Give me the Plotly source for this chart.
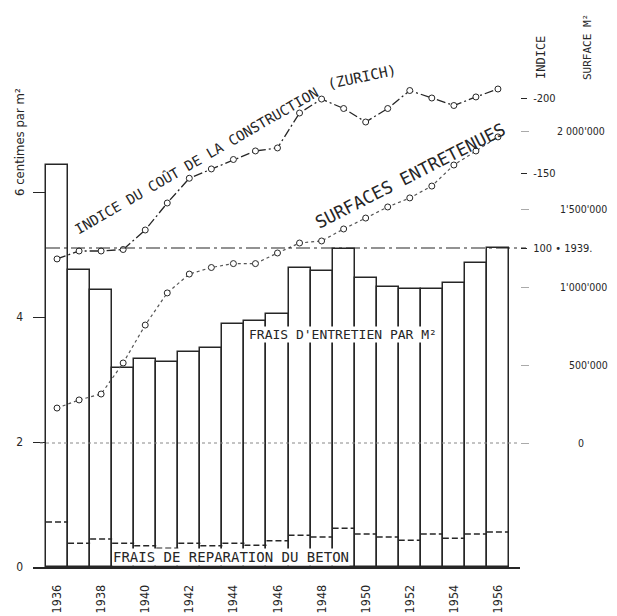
import plotly.graph_objects as go

# ---------------- data ----------------
years = list(range(1936, 1957))
maintenance = [6.43, 4.75, 4.43, 3.18, 3.33, 3.28, 3.44, 3.50, 3.89, 3.94, 4.05,
               4.78, 4.74, 5.09, 4.62, 4.48, 4.45, 4.45, 4.54, 4.86, 5.10]
repair = [0.72, 0.38, 0.45, 0.38, 0.34, 0.30, 0.38, 0.34, 0.38, 0.35, 0.42,
          0.51, 0.48, 0.62, 0.53, 0.48, 0.43, 0.53, 0.46, 0.53, 0.56]
index_zurich = [92.7, 98, 98, 99, 112, 130, 146.5, 152.7, 159, 164.7, 166.7,
                190, 199.3, 193, 184, 193, 205, 200, 195, 200.7, 206]
surface = [224000, 276000, 314000, 513000, 756000, 962000, 1083000, 1125000,
           1150000, 1150000, 1218000, 1282000, 1295000, 1372000, 1442000,
           1513000, 1571000, 1647000, 1782000, 1872000, 1962000]

year_ticks = [1936, 1938, 1940, 1942, 1944, 1946, 1948, 1950, 1952, 1954, 1956]
left_ticks = [0, 2, 4, 6]
left_ticktext = ["0", "2", "4", ""]
index_ticks = [100, 150, 200]
index_ticktext = ["100 • 1939.", "-150", "-200"]
surface_ticks = [0, 500000, 1000000, 1500000, 2000000]
surface_ticktext = ["\u00a0\u00a0\u00a0\u00a0\u00a0\u00a0\u00a00",
                    "\u00a0\u00a0\u00a0\u00a0500'000",
                    "\u00a01'000'000",
                    "\u00a01'500'000",
                    "2 000'000"]

INK = "#262626"
FONT = "DejaVu Sans Condensed, DejaVu Sans, sans-serif"
LETTER = "DejaVu Sans Mono, monospace"

# page geometry (the page body has an 8px margin)
OFF = 8
W, H = 617 - OFF, 616 - OFF
PLOT_L, PLOT_R, PLOT_T, PLOT_B = 33, 520, 10, 567      # page pixels
L, T = PLOT_L - OFF, PLOT_T - OFF
R, B = W - (PLOT_R - OFF), H - (PLOT_B - OFF)
PW, PH = PLOT_R - PLOT_L, PLOT_B - PLOT_T


def px(x, y):
    return (x - PLOT_L) / PW, (PLOT_B - y) / PH


# axis scales (pixels per unit)
left_ppu = 62.5
idx_ppu = 1.5
idx_base_px = 248
surf_ppu = 78 / 500000
surf_zero_px = 443

fig = go.Figure()

# maintenance cost bars
fig.add_trace(go.Bar(
    x=years, y=maintenance, width=1.0,
    marker=dict(color="rgba(0,0,0,0)", line=dict(color=INK, width=1.5)),
    hoverinfo="skip"))

# repair cost segments (dashed inside each bar)
rx, ry = [], []
for yr, v in zip(years, repair):
    rx += [yr - 0.5, yr + 0.5, None]
    ry += [v, v, None]
fig.add_trace(go.Scatter(
    x=rx, y=ry, mode="lines",
    line=dict(color=INK, width=1.5, dash="6px,3px")))

# construction cost index (Zurich)
fig.add_trace(go.Scatter(
    x=years, y=index_zurich, yaxis="y2", mode="lines+markers",
    line=dict(color=INK, width=1.3, dash="9px,3px,2px,3px"),
    marker=dict(symbol="circle", size=6, color="white",
                line=dict(color=INK, width=1))))

# maintained surfaces
fig.add_trace(go.Scatter(
    x=years, y=surface, yaxis="y3", mode="lines+markers",
    line=dict(color="#555555", width=1.2, dash="dot"),
    marker=dict(symbol="circle", size=6, color="white",
                line=dict(color=INK, width=1))))

idx_lo = 100 - (PLOT_B - idx_base_px) / idx_ppu
surf_lo = -(PLOT_B - surf_zero_px) / surf_ppu

fig.update_layout(
    width=W, height=H,
    margin=dict(l=L, r=R, t=T, b=B, autoexpand=False),
    paper_bgcolor="white", plot_bgcolor="white",
    showlegend=False, bargap=0,
    font=dict(family=FONT, color=INK, size=11),
    xaxis=dict(range=[1934.91, 1957.0], tickvals=year_ticks, tickangle=-90,
               showline=True, linecolor=INK, linewidth=1.5, ticks="",
               showgrid=False, zeroline=False, ticklabelstandoff=11,
               tickfont=dict(size=12.5, color=INK)),
    yaxis=dict(range=[0, PH / left_ppu], tickvals=left_ticks, ticktext=left_ticktext,
               ticks="inside", ticklen=12, tickwidth=1.3, tickcolor=INK,
               showline=False, showgrid=False, zeroline=False,
               ticklabelstandoff=9, tickfont=dict(size=12, color=INK)),
    yaxis2=dict(overlaying="y", side="right", anchor="x",
                range=[idx_lo, idx_lo + PH / idx_ppu],
                tickvals=index_ticks, ticktext=index_ticktext,
                ticks="outside", ticklen=6, tickwidth=1.2, tickcolor=INK,
                showline=False, showgrid=False, zeroline=False,
                ticklabelstandoff=4, tickfont=dict(size=11, color=INK)),
    yaxis3=dict(overlaying="y", side="right", anchor="free", position=1,
                range=[surf_lo, surf_lo + PH / surf_ppu],
                tickvals=surface_ticks, ticktext=surface_ticktext,
                ticks="outside", ticklen=8, tickwidth=1, tickcolor="#aaaaaa",
                showline=False, showgrid=False, zeroline=False,
                ticklabelstandoff=26, tickfont=dict(size=10.5, color=INK)),
)

# reference lines: surface 0 (dotted) and index 100 = 1939 (dash-dot)
fig.add_shape(type="line", xref="paper", yref="y3",
              x0=px(40, 0)[0], x1=1.0, y0=0, y1=0,
              line=dict(color="#888888", width=1, dash="dot"))
fig.add_shape(type="line", xref="paper", yref="y2",
              x0=px(46, 0)[0], x1=px(526, 0)[0], y0=100, y1=100,
              line=dict(color=INK, width=1.2, dash="14px,4px,3px,4px"))


def note(text, x, y, size, angle=0, bg=None, family=LETTER):
    ax, ay = px(x, y)
    fig.add_annotation(text=text, x=ax, y=ay, xref="paper", yref="paper",
                       showarrow=False, textangle=angle,
                       xanchor="center", yanchor="middle",
                       font=dict(family=family, size=size, color=INK),
                       bgcolor=bg, borderpad=0)


note("6 centimes par m²", 20, 142, 13, -90, family=FONT)
note("INDICE", 541, 58, 12, -90)
note("SURFACE M²", 588, 47, 11, -90)
note("INDICE DU COÛT DE LA CONSTRUCTION", 196, 160, 14, -30)
note("(ZURICH)", 362, 77, 14.5, -12)
note("SURFACES ENTRETENUES", 410, 176, 17.5, -27)
note("FRAIS D'ENTRETIEN PAR M²", 343, 334, 13, 0, "white")
note("FRAIS DE REPARATION DU BETON", 231, 557, 14, 0, "white")

fig.write_html("out.html")
